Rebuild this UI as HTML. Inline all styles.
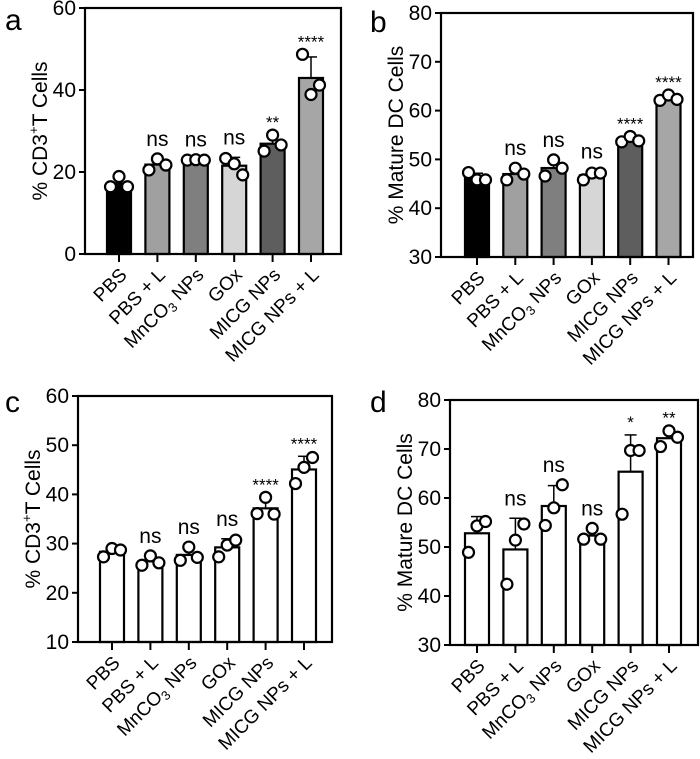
<!DOCTYPE html>
<html><head><meta charset="utf-8">
<style>
html,body{margin:0;padding:0;background:#fff;}
svg{display:block;font-family:"Liberation Sans",Arial,sans-serif;}
</style></head>
<body>
<svg id="fig" width="700" height="759" viewBox="0 0 700 759" xmlns="http://www.w3.org/2000/svg"></svg>
<script>
const categories = ["PBS","PBS + L","MnCO3 NPs","GOx","MICG NPs","MICG  NPs + L"];
const sigA = ["","ns","ns","ns","**","****"];
const sigB = ["","ns","ns","ns","****","****"];
const sigC = ["","ns","ns","ns","****","****"];
const sigD = ["","ns","ns","ns","*","**"];
const pointsA = [[16.4,18.9,16.4],[20.5,23.2,21.7],[22.9,23.0,22.9],[23.3,22.0,19.3],[25.1,29.0,26.6],[48.7,38.9,41.2]];
const pointsB = [[47.3,45.8,45.8],[45.8,48.2,47.0],[46.6,49.9,48.2],[45.8,47.2,47.2],[53.6,54.7,53.8],[62.1,63.2,62.3]];
const pointsC = [[27.3,29.0,28.7],[25.6,27.5,26.1],[26.6,29.3,27.2],[27.3,29.7,30.7],[36.1,39.4,36.0],[42.2,45.5,47.5]];
const pointsD = [[48.9,54.3,55.2],[42.4,51.4,54.7],[54.4,58.0,62.7],[51.6,53.8,51.6],[56.7,69.7,69.7],[70.5,73.7,72.4]];
const ticksA = [0,20,40,60];
const ticksB = [30,40,50,60,70,80];
const ticksC = [10,20,30,40,50,60];
const ticksD = [30,40,50,60,70,80];

const NS="http://www.w3.org/2000/svg";
const svg=document.getElementById("fig");
function mk(tag,attrs,parent){const e=document.createElementNS(NS,tag);for(const k in attrs)e.setAttribute(k,attrs[k]);(parent||svg).appendChild(e);return e;}

const fillsGray=["#000000","#a0a0a0","#7f7f7f","#d6d6d6","#5e5e5e","#a6a6a6"];
const fillsWhite=["#fff","#fff","#fff","#fff","#fff","#fff"];

function panel(cfg){
  const g=mk("g",{});
  
  
  const {L,T,B,R,x0,dx,ymin,ymax}=cfg;
  const y=v=>B-(v-ymin)/(ymax-ymin)*(B-T);
  const x=i=>x0+i*dx;
  const lt=mk("text",{x:cfg.lx,y:cfg.ly,"font-size":30,fill:"#000"},g);lt.textContent=cfg.id;
  
  
  cfg.pts.forEach((p,i)=>{
    const m=p.reduce((a,b)=>a+b,0)/p.length;
    const sd=Math.sqrt(p.reduce((a,b)=>a+(b-m)*(b-m),0)/(p.length-1));
    const bw=24;
    const eb=mk("line",{x1:x(i),x2:x(i),y1:y(m),y2:y(m+sd),stroke:"#000","stroke-width":1.5},g);
    
    
    mk("line",{x1:x(i)-6,x2:x(i)+6,y1:y(m+sd),y2:y(m+sd),stroke:"#000","stroke-width":1.5},g);
    const r=mk("rect",{x:x(i)-bw/2,y:y(m),width:bw,height:B-y(m),fill:cfg.fills[i],stroke:"#000","stroke-width":2.2},g);
    
    
    const offs=[-8.5,0,8.5];
    p.forEach((v,j)=>{
      const c=mk("circle",{cx:x(i)+offs[j],cy:y(v),r:5.5,fill:"#fff",stroke:"#000","stroke-width":2.2},g);
      
      
    });
    if(cfg.sig[i]){
      const top=Math.max(m+sd,Math.max(...p));
      const isStar=cfg.sig[i]!=="ns";
      const t=mk("text",{x:x(i),y:y(top)-(isStar?7:13),"text-anchor":"middle","font-size":isStar?17:21,fill:"#000"},g);
      t.textContent=cfg.sig[i];
      
      
    }
    const tk=mk("line",{x1:x(i),x2:x(i),y1:B,y2:B+8,stroke:"#000","stroke-width":2},g);
    
    
    const lb=mk("text",{transform:`translate(${x(i)+9},${B+22}) rotate(-45)`,"text-anchor":"end","font-size":19,fill:"#000"},g);
    
    
    const name=categories[i];
    if(name.indexOf("MnCO3")===0){
      lb.appendChild(document.createTextNode("MnCO"));
      const s=mk("tspan",{"font-size":13,dy:4},lb);s.textContent="3";
      const s2=mk("tspan",{dy:-4},lb);s2.textContent=" NPs";
    } else { lb.setAttribute("xml:space","preserve"); lb.textContent=name; }
  });
  const fr=mk("rect",{x:L,y:T,width:R-L,height:B-T,fill:"none",stroke:"#000","stroke-width":2.2},g);
  
  
  cfg.ticks.forEach(v=>{
    mk("line",{x1:L-6,x2:L,y1:y(v),y2:y(v),stroke:"#000","stroke-width":2},g);
    const t=mk("text",{x:L-9,y:y(v)+7,"text-anchor":"end","font-size":21,fill:"#000"},g);
    t.textContent=v;
    
    
  });
  const yt=mk("text",{transform:`translate(${L-38},${(T+B)/2}) rotate(-90)`,"text-anchor":"middle","font-size":21,fill:"#000"},g);
  
  
  if(cfg.cd3){
    yt.appendChild(document.createTextNode("% CD3"));
    const s=mk("tspan",{"font-size":13,dy:-9},yt);s.textContent="+";
    const s2=mk("tspan",{dy:9},yt);s2.textContent="T Cells";
  } else yt.textContent="% Mature DC Cells";
}

panel({id:"a",L:85,T:8,B:254,R:341,x0:119,dx:38.4,ymin:0,ymax:60,ticks:ticksA,pts:pointsA,sig:sigA,fills:fillsGray,cd3:true,lx:5,ly:30});
panel({id:"b",L:441,T:13,B:257,R:693,x0:477,dx:38.3,ymin:30,ymax:80,ticks:ticksB,pts:pointsB,sig:sigB,fills:fillsGray,cd3:false,lx:370,ly:32});
panel({id:"c",L:78,T:396,B:642,R:332,x0:112,dx:38.4,ymin:10,ymax:60,ticks:ticksC,pts:pointsC,sig:sigC,fills:fillsWhite,cd3:true,lx:5,ly:412});
panel({id:"d",L:450,T:400,B:645,R:698,x0:477,dx:38.4,ymin:30,ymax:80,ticks:ticksD,pts:pointsD,sig:sigD,fills:fillsWhite,cd3:false,lx:370,ly:412});
</script>
</body></html>
